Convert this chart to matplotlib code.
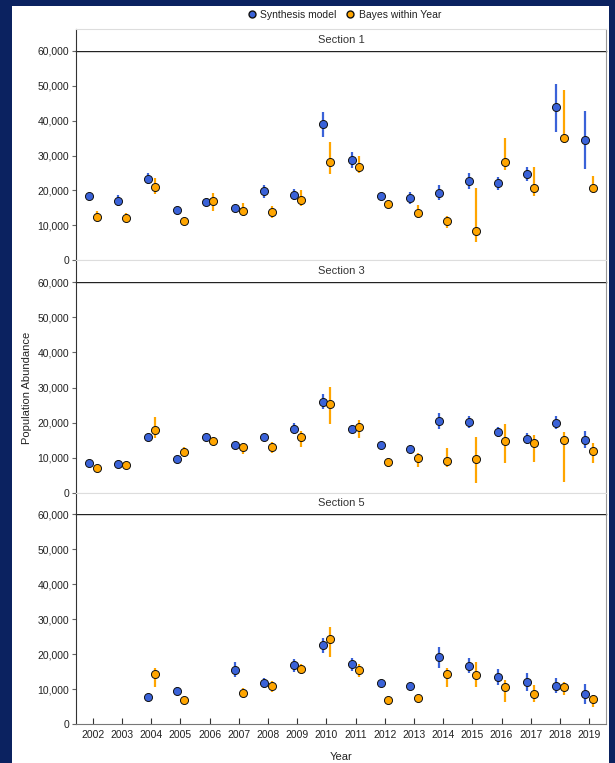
import numpy as np
import matplotlib
matplotlib.use('Agg')
import matplotlib.pyplot as plt
from matplotlib.lines import Line2D
from matplotlib.patches import Rectangle
from matplotlib.ticker import FuncFormatter

plt.rcParams['font.family'] = ['Liberation Sans', 'DejaVu Sans']

nan = np.nan
years = list(range(2002, 2020))

# Section 1 (thousands)
syn1 = [18.5, 17.0, 23.3, 14.3, 16.7, 14.9, 19.8, 18.7, 39.0, 28.7, 18.5, 17.8, 19.3, 22.7, 22.0, 24.6, 43.8, 34.5]
syn1_lo = [17.8, 15.6, 21.7, 13.6, 16.0, 14.2, 17.9, 17.2, 35.3, 26.3, 17.8, 16.1, 17.2, 20.3, 20.1, 22.6, 36.8, 26.1]
syn1_hi = [19.3, 18.6, 24.9, 15.0, 17.4, 15.7, 21.6, 20.3, 42.4, 31.1, 19.2, 19.4, 21.4, 24.9, 23.7, 26.6, 50.4, 42.7]
bay1 = [12.4, 12.0, 20.9, 11.2, 16.8, 14.2, 13.7, 17.1, 28.0, 26.7, 16.0, 13.6, 11.1, 8.4, 28.0, 20.8, 34.9, 20.6]
bay1_lo = [11.5, 11.0, 19.0, 10.5, 14.1, 12.6, 12.2, 15.6, 24.7, 25.1, 15.2, 12.0, 9.3, 5.1, 25.8, 18.4, 33.5, 19.3]
bay1_hi = [14.1, 13.6, 23.5, 12.0, 19.1, 16.4, 15.6, 20.0, 33.9, 29.9, 16.7, 15.8, 12.6, 20.8, 35.1, 26.6, 48.8, 24.1]

# Section 3
syn3 = [8.6, 8.3, 15.8, 9.5, 16.0, 13.7, 15.8, 18.1, 25.9, 18.3, 13.6, 12.5, 20.5, 20.2, 17.2, 15.4, 20.0, 15.1]
syn3_lo = [8.0, 7.7, 15.1, 8.9, 15.3, 13.0, 15.1, 16.6, 23.8, 17.2, 12.9, 11.8, 18.2, 18.5, 16.0, 13.9, 18.1, 12.7]
syn3_hi = [9.2, 8.9, 16.5, 10.1, 16.7, 14.4, 16.5, 19.8, 28.1, 19.3, 14.3, 13.2, 22.8, 22.0, 18.6, 16.9, 22.0, 17.6]
bay3 = [7.0, 7.9, 17.9, 11.6, 14.8, 13.0, 13.0, 15.8, 25.3, 18.8, 8.8, 9.8, 9.0, 9.7, 14.8, 14.1, 15.0, 11.9]
bay3_lo = [6.4, 7.3, 15.5, 10.6, 14.1, 10.9, 11.2, 13.1, 19.6, 15.5, 7.4, 7.4, 7.2, 2.9, 8.4, 8.8, 3.1, 8.4]
bay3_hi = [7.6, 8.5, 21.5, 12.9, 15.5, 14.3, 14.5, 17.5, 30.2, 20.7, 9.8, 11.4, 12.8, 16.0, 19.5, 16.5, 17.2, 14.1]

# Section 5 (no estimates in 2002, 2003, 2006)
syn5 = [nan, nan, 7.9, 9.5, nan, 15.5, 11.7, 16.9, 22.7, 17.2, 11.7, 10.9, 19.1, 16.8, 13.5, 12.1, 11.0, 8.7]
syn5_lo = [nan, nan, 7.3, 8.4, nan, 13.4, 10.3, 15.0, 20.3, 15.2, 11.1, 9.8, 16.2, 14.6, 11.3, 9.6, 8.9, 5.8]
syn5_hi = [nan, nan, 8.5, 10.7, nan, 17.7, 13.1, 18.7, 24.7, 19.0, 12.3, 11.9, 22.2, 18.9, 15.7, 14.6, 13.1, 11.5]
bay5 = [nan, nan, 14.3, 6.9, nan, 9.0, 10.9, 15.9, 24.3, 15.5, 6.9, 7.6, 14.3, 14.1, 10.6, 8.7, 10.6, 7.1]
bay5_lo = [nan, nan, 10.7, 6.3, nan, 7.7, 9.3, 14.3, 19.3, 13.4, 6.3, 7.0, 10.7, 10.6, 6.5, 6.3, 8.4, 5.0]
bay5_hi = [nan, nan, 16.2, 7.5, nan, 10.3, 12.4, 17.2, 27.7, 17.1, 7.5, 8.2, 16.2, 17.7, 12.7, 11.2, 12.0, 8.4]

sections = ['Section 1', 'Section 3', 'Section 5']
syn_data = [(syn1, syn1_lo, syn1_hi), (syn3, syn3_lo, syn3_hi), (syn5, syn5_lo, syn5_hi)]
bay_data = [(bay1, bay1_lo, bay1_hi), (bay3, bay3_lo, bay3_hi), (bay5, bay5_lo, bay5_hi)]

blue = '#3a62d8'
orange = '#ffa500'
navy = '#0b2260'
txt = '#222222'

W, H = 615, 763
fig = plt.figure(figsize=(W / 100, H / 100), dpi=100, facecolor=navy)
# white page inside the dark frame
fig.patches.append(Rectangle((12 / W, 0), 597 / W, (H - 6) / H, transform=fig.transFigure,
                             facecolor='white', edgecolor='none', zorder=-10))

left, right = 76, 606
panels = [(51, 260, 29), (282.3, 492.7, 260), (514.3, 724.3, 492.7)]   # (top, bottom, strip top) in px
yfmt = FuncFormatter(lambda v, p: '{:,.0f}'.format(v))
x = np.array(years, dtype=float)

for i, (top, bot, stop) in enumerate(panels):
    ax = fig.add_axes([left / W, (H - bot) / H, (right - left) / W, (bot - top) / H])
    ax.set_facecolor('none')

    s, slo, shi = [np.array(a) * 1000 for a in syn_data[i]]
    b, blo, bhi = [np.array(a) * 1000 for a in bay_data[i]]
    ax.vlines(x - 0.125, slo, shi, color=blue, lw=1.6, zorder=2)
    ax.plot(x - 0.125, s, 'o', ms=5.8, mfc=blue, mec='#111111', mew=0.7, zorder=3)
    ax.vlines(x + 0.125, blo, bhi, color=orange, lw=1.6, zorder=4)
    ax.plot(x + 0.125, b, 'o', ms=5.8, mfc=orange, mec='#111111', mew=0.7, zorder=5)

    ax.set_xlim(2001.42, 2019.58)
    ax.set_ylim(0, 60000)
    ax.set_yticks(range(0, 60001, 10000))
    ax.yaxis.set_major_formatter(yfmt)
    ax.tick_params(axis='y', direction='out', length=3, width=0.8, color='#666666',
                   labelsize=7.5, labelcolor=txt, pad=2)

    ax.spines['left'].set_color('#333333')
    ax.spines['right'].set_color('#999999')
    ax.spines['top'].set_color('#222222')
    ax.spines['top'].set_linewidth(1.0)
    if i < 2:
        ax.spines['bottom'].set_color('#dddddd')
        ax.set_xticks([])
    else:
        ax.spines['bottom'].set_color('#777777')
        ax.set_xticks(years)
        ax.tick_params(axis='x', direction='in', length=4, width=0.8, color='#333333',
                       labelsize=7.5, labelcolor=txt, pad=4)
        ax.set_xlabel('Year', fontsize=8, color=txt, labelpad=9)
    if i == 1:
        ax.set_ylabel('Population Abundance', fontsize=8, color=txt, labelpad=4)

    # facet strip
    st = fig.add_axes([left / W, (H - top) / H, (right - left) / W, (top - stop) / H])
    st.set_facecolor('white')
    st.set_xticks([])
    st.set_yticks([])
    st.spines['top'].set_color('#dddddd')
    st.spines['right'].set_color('#999999')
    st.spines['left'].set_color('#333333')
    st.spines['bottom'].set_visible(False)
    st.text(0.5, 0.5, sections[i], ha='center', va='center', fontsize=8, color='#333333',
            transform=st.transAxes)

handles = [Line2D([], [], ls='none', marker='o', ms=5, mfc=blue, mec='#111111', mew=1.0),
           Line2D([], [], ls='none', marker='o', ms=5, mfc=orange, mec='#111111', mew=1.0)]
fig.legend(handles, ['Synthesis model', 'Bayes within Year'], loc='center',
           bbox_to_anchor=(344 / W, 1 - 15 / H), ncol=2, frameon=False, fontsize=7.5,
           handletextpad=0.3, columnspacing=0.8, handlelength=1.0, labelcolor=txt)

plt.savefig('out.png', dpi=100, facecolor=navy)
